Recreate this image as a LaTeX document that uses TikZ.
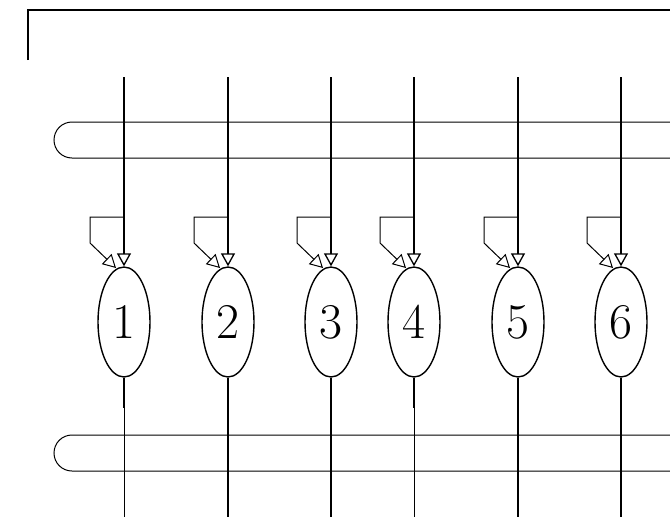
\documentclass[tikz,border=0pt]{standalone}
\usetikzlibrary{shapes.geometric,arrows.meta,calc}
\tikzset{
  unit/.style={draw,ellipse,line width=1.4pt,minimum width=52pt,minimum height=110pt,inner sep=0pt,font=\fontsize{50}{50}\selectfont},
  wire/.style={line width=1.3pt},
  thinwire/.style={line width=0.8pt},
  bar/.style={line width=1pt},
  fb/.style={line width=1pt},
  tip/.style={-{Triangle[open,length=13pt,width=14pt]}},
}
\begin{document}
\begin{tikzpicture}[x=1pt,y=-1pt]
\useasboundingbox (0,0) rectangle (670,517);
% top bracket
\draw[line width=1.5pt] (28,60) -- (28,10) -- (672,10);
% bus bars
\draw[bar] (672,122) -- (72,122) arc[start angle=270,end angle=90,radius=18] -- (672,158);
\draw[bar] (672,435) -- (72,435) arc[start angle=270,end angle=90,radius=18] -- (672,471);
% units
\foreach \i/\x in {1/124,2/228,3/331,4/414,5/518,6/621}{
  \node[unit] (n\i) at (\x,322) {\i};
  \coordinate (t\i) at (\x,77);
  \coordinate (b\i) at (\x,517);
  \coordinate (m\i) at (\x,408);
  \coordinate (s\i) at (\x,217);
  \coordinate (c\i) at (\x-34,217);
  \coordinate (d\i) at (\x-34,243);
  \coordinate (e\i) at (\x-8,268);
  \draw[wire,tip] (t\i) -- (n\i.north);
  \draw[fb,tip] (s\i) -- (c\i) -- (d\i) -- (e\i);
}
\foreach \i in {2,3,5,6}{\draw[wire] (n\i.south) -- (b\i);}
\foreach \i in {1,4}{\draw[wire] (n\i.south) -- (m\i); \draw[thinwire] (m\i) -- (b\i);}
\end{tikzpicture}
\end{document}
